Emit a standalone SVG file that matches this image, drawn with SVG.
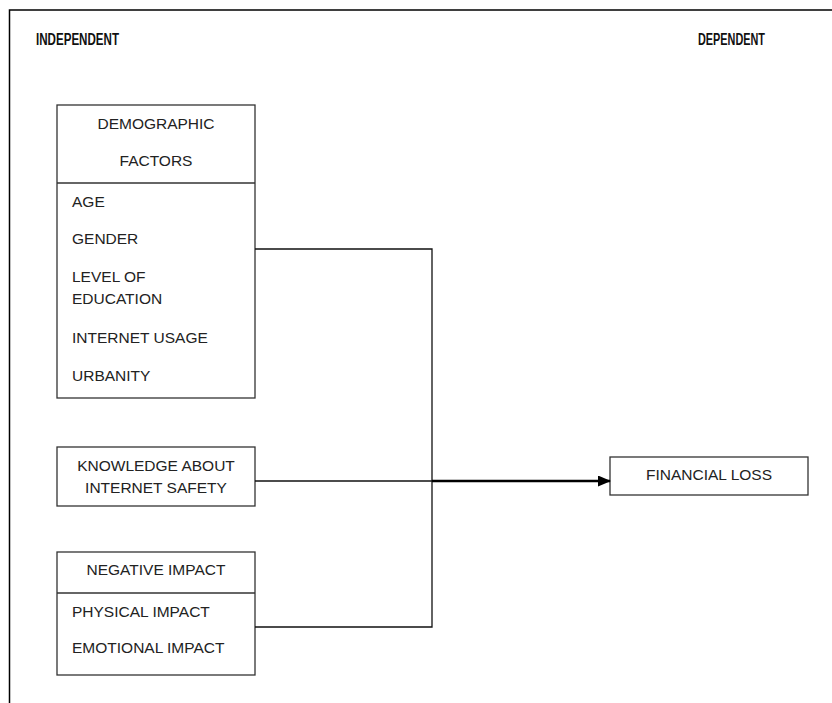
<svg xmlns="http://www.w3.org/2000/svg" width="832" height="703" viewBox="0 0 832 703">
<style>
.frame{fill:none;stroke:#000;stroke-width:1.5}
.box{fill:#fff;stroke:#333;stroke-width:1.3}
.div{stroke:#333;stroke-width:1.3}
.t{font-family:"Liberation Sans",Arial,sans-serif;font-size:15.5px;fill:#222}
.c{text-anchor:middle}
.h{font-family:"Liberation Sans",Arial,sans-serif;font-size:16px;font-weight:bold;fill:#111}
.conn{fill:none;stroke:#111;stroke-width:1.3}
.arrow{fill:none;stroke:#000;stroke-width:2.5}
</style>
<defs>
<marker id="ah" markerWidth="13" markerHeight="11" refX="12" refY="5.5" orient="auto" markerUnits="userSpaceOnUse">
<path d="M0,0 L13,5.5 L0,11 Z" fill="#000"/>
</marker>
</defs>
<rect width="832" height="703" fill="#fff"/>
<path class="frame" d="M9.5,703 V10 H832"/>
<text class="h" x="36" y="45" textLength="83" lengthAdjust="spacingAndGlyphs">INDEPENDENT</text>
<text class="h" x="698" y="45" textLength="67" lengthAdjust="spacingAndGlyphs">DEPENDENT</text>

<g id="demographic">
<rect class="box" x="57" y="105" width="198" height="293"/>
<line class="div" x1="57" y1="183" x2="255" y2="183"/>
<text class="t c" x="156" y="129">DEMOGRAPHIC</text>
<text class="t c" x="156" y="166">FACTORS</text>
<text class="t" x="72" y="207">AGE</text>
<text class="t" x="72" y="244">GENDER</text>
<text class="t" x="72" y="282">LEVEL OF</text>
<text class="t" x="72" y="304">EDUCATION</text>
<text class="t" x="72" y="343">INTERNET USAGE</text>
<text class="t" x="72" y="381">URBANITY</text>
</g>

<g id="knowledge">
<rect class="box" x="57" y="447" width="198" height="59"/>
<text class="t c" x="156" y="471">KNOWLEDGE ABOUT</text>
<text class="t c" x="156" y="493">INTERNET SAFETY</text>
</g>

<g id="negative">
<rect class="box" x="57" y="552" width="198" height="123"/>
<line class="div" x1="57" y1="593" x2="255" y2="593"/>
<text class="t c" x="156" y="575">NEGATIVE IMPACT</text>
<text class="t" x="72" y="617">PHYSICAL IMPACT</text>
<text class="t" x="72" y="653">EMOTIONAL IMPACT</text>
</g>

<g id="financial">
<rect class="box" x="610" y="457" width="198" height="38"/>
<text class="t c" x="709" y="480">FINANCIAL LOSS</text>
</g>

<g id="connectors">
<path class="conn" d="M255,249 H432 V627 H255"/>
<line class="conn" x1="255" y1="481" x2="432" y2="481"/>
<line class="arrow" x1="432" y1="481" x2="610" y2="481" marker-end="url(#ah)"/>
</g>
</svg>
